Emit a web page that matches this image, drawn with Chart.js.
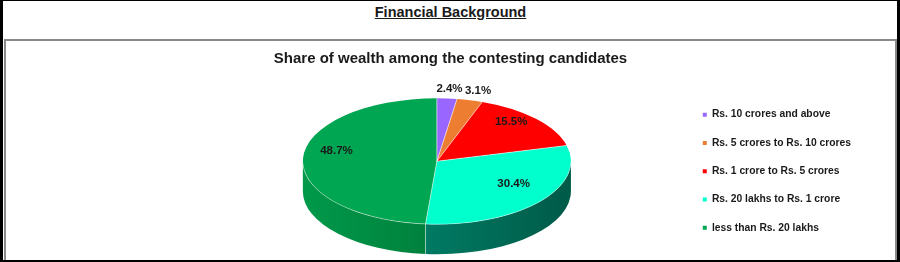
<!DOCTYPE html>
<html><head><meta charset="utf-8">
<script src="https://cdn.jsdelivr.net/npm/chart.js@4/dist/chart.umd.min.js"></script>
<style>
html,body{margin:0;padding:0;background:#fff;}
#page{position:relative;width:900px;height:262px;overflow:hidden;background:#fff;}
.heading{position:absolute;left:0;top:3.5px;width:901px;text-align:center;font:bold 14.5px/17px "Liberation Sans",Arial,sans-serif;color:#1a1a1a;}
.heading span{text-decoration:underline;}
.ctitle{position:absolute;left:0;top:49px;width:901px;text-align:center;font:bold 15px/18px "Liberation Sans",Arial,sans-serif;color:#1a1a1a;}
.inner{position:absolute;left:4px;top:39px;width:893px;height:240px;box-sizing:border-box;border:2px solid #8a8a8a;border-bottom:none;}
#wrap{position:absolute;left:6px;top:41px;width:889px;height:223px;}
.outer{position:absolute;left:0;top:0;width:900px;height:262px;box-sizing:border-box;border-left:3px solid #000;border-top:1px solid #000;border-right:3px solid #000;border-bottom:2px solid #000;pointer-events:none;}
</style>
</head><body>
<div id="page">
  <div class="heading"><span>Financial Background</span></div>
  <div class="inner"></div>
  <div id="wrap"><canvas id="c"></canvas></div>
  <div class="ctitle" id="ctitle"></div>
  <div class="outer"></div>
</div>
<script>
const chartTitle = 'Share of wealth among the contesting candidates';
const categories = [
  'Rs. 10 crores and above',
  'Rs. 5 crores to Rs. 10 crores',
  'Rs. 1 crore to Rs. 5 crores',
  'Rs. 20 lakhs to Rs. 1 crore',
  'less than Rs. 20 lakhs'
];
const shares = [2.4, 3.1, 15.5, 30.4, 48.7];

const topColors = ['#9966FF', '#ED7D31', '#FF0000', '#00FFCC', '#00A651'];
const wallLight = ['#7a52cc', '#bd6427', '#cc0000', '#00957a', '#00994a'];
const wallDark  = ['#5c3d99', '#8e4b1d', '#990000', '#005a48', '#00652e'];

document.getElementById('ctitle').textContent = chartTitle;

const SX = 1.554, TILT = 0.47, DEPTH = 30, LIFT = 16.5;
const FONT = '"Liberation Sans", Arial, sans-serif';

function geom(chart) {
  const arc = chart.getDatasetMeta(0).data[0];
  const rx = arc.outerRadius * SX, ry = rx * TILT;
  return {cx: arc.x, cy: arc.y - LIFT, rx, ry, r: arc.outerRadius, ox: arc.x, oy: arc.y};
}

const pie3d = {
  id: 'pie3d',
  beforeDatasetsDraw(chart) {
    const ctx = chart.ctx, g = geom(chart), meta = chart.getDatasetMeta(0);
    ctx.save();
    meta.data.forEach((arc, i) => {
      [[0, Math.PI], [2 * Math.PI, 3 * Math.PI]].forEach(([lo, hi]) => {
        const a = Math.max(arc.startAngle, lo), b = Math.min(arc.endAngle, hi);
        if (b <= a) return;
        const grad = ctx.createLinearGradient(g.cx - g.rx, 0, g.cx + g.rx, 0);
        grad.addColorStop(0, wallLight[i]);
        grad.addColorStop(1, wallDark[i]);
        ctx.beginPath();
        ctx.ellipse(g.cx, g.cy, g.rx, g.ry, 0, a, b, false);
        ctx.ellipse(g.cx, g.cy + DEPTH, g.rx, g.ry, 0, b, a, true);
        ctx.closePath();
        ctx.fillStyle = grad;
        ctx.fill();
      });
    });
    ctx.strokeStyle = 'rgba(255,255,255,0.45)';
    ctx.lineWidth = 1;
    meta.data.forEach(arc => {
      let t = arc.startAngle;
      while (t < 0) t += 2 * Math.PI;
      while (t > 2 * Math.PI) t -= 2 * Math.PI;
      if (t > 0.02 && t < Math.PI - 0.02) {
        const x = g.cx + g.rx * Math.cos(t), y = g.cy + g.ry * Math.sin(t);
        ctx.beginPath(); ctx.moveTo(x, y); ctx.lineTo(x, y + DEPTH); ctx.stroke();
      }
    });
    ctx.restore();
    ctx.save();
    ctx.translate(g.cx, g.cy);
    ctx.scale(g.rx / g.r, g.ry / g.r);
    ctx.translate(-g.ox, -g.oy);
  },
  afterDatasetsDraw(chart) {
    const ctx = chart.ctx;
    ctx.restore();
    const g = geom(chart), meta = chart.getDatasetMeta(0);
    ctx.save();
    ctx.strokeStyle = 'rgba(255,255,255,0.55)';
    ctx.lineWidth = 1;
    meta.data.forEach(arc => {
      const t = arc.startAngle;
      ctx.beginPath();
      ctx.moveTo(g.cx, g.cy);
      ctx.lineTo(g.cx + g.rx * Math.cos(t), g.cy + g.ry * Math.sin(t));
      ctx.stroke();
    });
    ctx.beginPath();
    ctx.ellipse(g.cx, g.cy, g.rx, g.ry, 0, 0.03, Math.PI - 0.03, false);
    ctx.strokeStyle = 'rgba(255,255,255,0.4)';
    ctx.stroke();
    ctx.font = 'bold 11.5px ' + FONT;
    ctx.fillStyle = '#1a1a1a';
    ctx.textAlign = 'center';
    ctx.textBaseline = 'middle';
    meta.data.forEach((arc, i) => {
      const m = (arc.startAngle + arc.endAngle) / 2;
      const small = shares[i] < 5;
      const fx = small ? 1.25 : 0.75;
      const fy = small ? 1.15 : 0.75;
      const x = g.cx + g.rx * fx * Math.cos(m);
      const y = g.cy + g.ry * fy * Math.sin(m) - (small ? 0 : 8);
      ctx.fillText(shares[i].toFixed(1) + '%', x, y);
    });
    ctx.restore();
  }
};

new Chart(document.getElementById('c'), {
  type: 'pie',
  data: {
    labels: categories,
    datasets: [{
      data: shares,
      backgroundColor: topColors,
      borderWidth: 0,
      clip: false
    }]
  },
  options: {
    responsive: true,
    maintainAspectRatio: false,
    animation: false,
    events: [],
    layout: {padding: {left: 183, right: 34, top: 50.5, bottom: 0}},
    plugins: {
      title: {display: false},
      legend: {
        position: 'right',
        align: 'start',
        labels: {
          boxWidth: 4,
          boxHeight: 4,
          padding: 18,
          color: '#1a1a1a',
          font: {family: FONT, size: 10.3, weight: 'bold'}
        }
      },
      tooltip: {enabled: false}
    }
  },
  plugins: [pie3d]
});
</script>
</body></html>
